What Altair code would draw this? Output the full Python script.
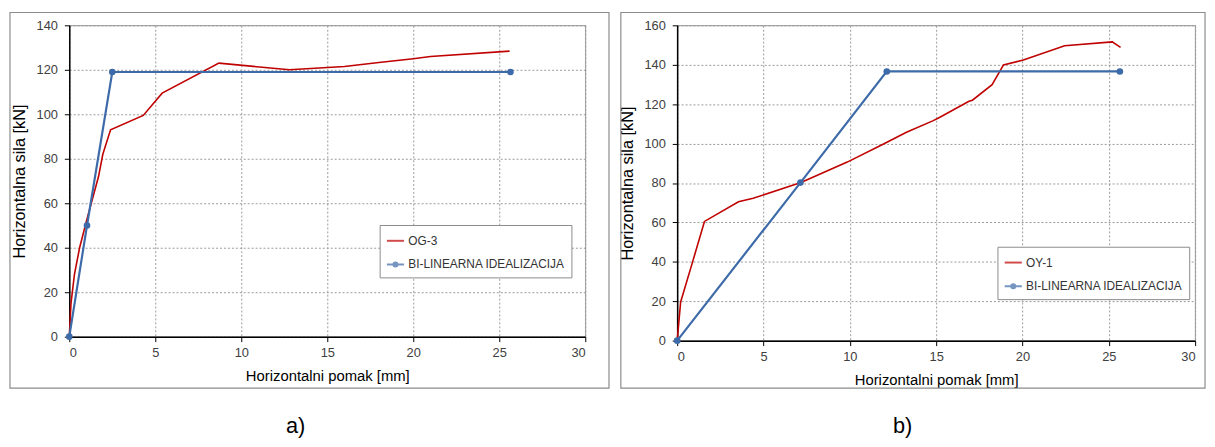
import altair as alt
import pandas as pd

RED = "#c00000"
BLUE = "#3d6aa8"
BL = "BI-LINEARNA IDEALIZACIJA"
FONT = "Liberation Sans"

# Panel a) OG-3
a_red_x = [0, 0.1, 0.3, 0.6, 1.0, 1.35, 1.7, 1.95, 2.4, 4.3, 5.4, 8.7, 12.8, 16.0, 18.0, 20.0, 21.0, 25.6]
a_red_y = [0, 15, 28, 40, 52, 62, 72, 82, 93, 99.5, 109.5, 123, 120, 121.5, 123.3, 125, 126, 128.4]
a_bl_x = [0, 1.03, 2.5, 25.65]
a_bl_y = [0, 50, 119, 119]

# Panel b) OY-1
b_red_x = [0, 0.2, 0.88, 1.58, 3.55, 4.4, 7.17, 9.85, 11.95, 13.28, 14.8, 15.19, 16.9, 17.1, 18.24, 18.9, 20.05, 22.44, 25.2, 25.68]
b_red_y = [0, 19.6, 39.6, 60.5, 70.5, 72.2, 80.2, 90.6, 99.8, 105.7, 111.5, 113.2, 121.5, 122, 129.9, 139.9, 142.4, 149.6, 151.6, 148.8]
b_bl_x = [0, 7.14, 12.14, 25.64]
b_bl_y = [0, 80.2, 136.6, 136.6]

x_ticks = [0, 5, 10, 15, 20, 25, 30]
a_y_ticks = [0, 20, 40, 60, 80, 100, 120, 140]
b_y_ticks = [0, 20, 40, 60, 80, 100, 120, 140, 160]

LINE_SYM = "M-1,0L1,0"
DOT_SYM = "M-1,0L1,0M-0.24,0A0.24,0.24,0,1,0,0.24,0A0.24,0.24,0,1,0,-0.24,0"


def frame_df(rx, ry, name, bx, by):
    r = pd.DataFrame({"x": rx, "y": ry, "series": name, "i": range(len(rx))})
    b = pd.DataFrame({"x": bx, "y": by, "series": BL, "i": range(len(bx))})
    return pd.concat([r, b], ignore_index=True)


def panel(df, name, ymax, yticks, W, H, fr, leg_xy, caption, cap_dx):
    leg = alt.Legend(
        title=None, orient="none", legendX=leg_xy[0], legendY=leg_xy[1],
        fillColor="white", strokeColor="#8c8c8c", padding=6, rowPadding=8,
        symbolSize=300, symbolStrokeWidth=2, labelOffset=3, labelLimit=0,
        labelFont=FONT, labelFontSize=12, labelColor="#333333",
    )
    xenc = alt.X("x:Q", scale=alt.Scale(domain=[0, 30], nice=False),
                 axis=alt.Axis(values=x_ticks, title="Horizontalni pomak [mm]",
                               labelPadding=5, titlePadding=9, titleFontSize=15))
    yenc = alt.Y("y:Q", scale=alt.Scale(domain=[0, ymax], nice=False),
                 axis=alt.Axis(values=yticks, title="Horizontalna sila [kN]",
                               labelPadding=7, titlePadding=9, titleFontSize=16.5))
    base = alt.Chart(df).encode(x=xenc, y=yenc, order="i:Q")
    red = base.transform_filter(alt.datum.series == name).mark_line(strokeWidth=1.6, color=RED)
    blue = base.transform_filter(alt.datum.series == BL).mark_line(
        strokeWidth=2.2, color=BLUE, point=alt.OverlayMarkDef(filled=True, size=45, color=BLUE))
    legend_layer = base.transform_filter(alt.datum.i < 0).mark_point(filled=False).encode(
        color=alt.Color("series:N", scale=alt.Scale(domain=[name, BL], range=[RED, BLUE]), legend=leg),
        shape=alt.Shape("series:N", scale=alt.Scale(domain=[name, BL], range=[LINE_SYM, DOT_SYM]), legend=leg),
    )
    box = alt.Chart(pd.DataFrame({"k": [0]})).mark_rect(
        fillOpacity=0, stroke="#8c8c8c", strokeWidth=1.2).encode(
        x=alt.value(fr[0]), x2=alt.value(W + fr[1]), y=alt.value(fr[2]), y2=alt.value(H + fr[3]))
    return alt.layer(box, red, blue, legend_layer).properties(
        width=W, height=H,
        title=alt.Title(caption, orient="bottom", anchor="middle", dx=cap_dx, offset=28,
                        fontSize=22, fontWeight="normal", font=FONT, color="black"),
    )


dfa = frame_df(a_red_x, a_red_y, "OG-3", a_bl_x, a_bl_y)
dfb = frame_df(b_red_x, b_red_y, "OY-1", b_bl_x, b_bl_y)

pa = panel(dfa, "OG-3", 140, a_y_ticks, 522, 315, (-60, 24, -13, 52), (314, 202), "a)", -32)
pb = panel(dfb, "OY-1", 160, b_y_ticks, 524, 319, (-57, 10, -13, 48), (324, 224), "b)", -34)

chart = alt.hconcat(pa, pb, spacing=7).resolve_scale(
    color="independent", shape="independent"
).resolve_legend(color="independent", shape="independent").properties(
    padding={"left": 0, "top": 0, "right": 0, "bottom": 0}
).configure_view(stroke="#a6a6a6", strokeWidth=1.2).configure_axis(
    domainColor="black", domainWidth=1.5, tickColor="black", tickSize=5,
    labelFont=FONT, labelFontSize=13, labelColor="#404040",
    titleFont=FONT, titleFontWeight="normal", titleColor="black",
    gridColor="#9a9a9a", gridDash=[2, 2], gridWidth=1,
)

chart.save("out.html", embed_options={"renderer": "svg", "actions": False})
